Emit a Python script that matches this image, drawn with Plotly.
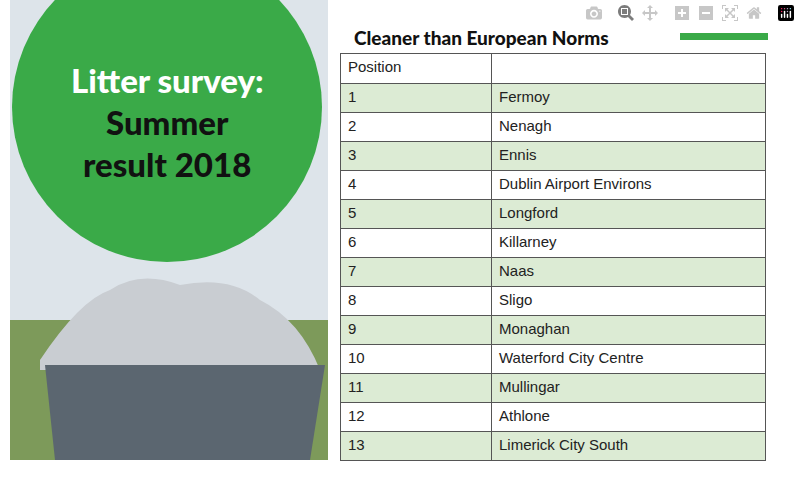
import plotly.graph_objects as go

positions = [str(i) for i in range(1, 14)]
towns = ["Fermoy", "Nenagh", "Ennis", "Dublin Airport Environs", "Longford", "Killarney",
         "Naas", "Sligo", "Monaghan", "Waterford City Centre", "Mullingar", "Athlone",
         "Limerick City South"]
header = ["Position", ""]
title = "Cleaner than European Norms"

W, H = 800, 483
green_light = "#dcebd4"
fills = [green_light if i % 2 == 0 else "white" for i in range(len(towns))]

fig = go.Figure()
fig.add_trace(go.Table(
    domain=dict(x=[340/W, 765/W], y=[1-461/H, 1-53/H]),
    columnwidth=[151, 274],
    header=dict(values=header, fill_color="white", line_color="#555", height=30,
                align="left", font=dict(family="Liberation Sans, Arial", size=15, color="#222")),
    cells=dict(values=[positions, towns], fill_color=[fills, fills], line_color="#555", height=29,
               align="left", font=dict(family="Liberation Sans, Arial", size=15, color="#222")),
))

shapes = [
    dict(type="rect", x0=10, x1=328, y0=0, y1=460, fillcolor="#dde4ea", line_width=0, layer="below"),
    dict(type="rect", x0=10, x1=328, y0=320, y1=460, fillcolor="#7d9a5a", line_width=0, layer="below"),
    dict(type="path", path="M 40 360 Q 80 300 110 290 Q 140 270 180 285 Q 230 275 260 300 Q 300 320 320 370 L 40 370 Z",
         fillcolor="#c9cdd2", line_width=0, layer="below"),
    dict(type="path", path="M 45 365 L 325 365 L 310 460 L 55 460 Z", fillcolor="#5b6670", line_width=0, layer="below"),
    dict(type="circle", x0=12, x1=322, y0=-48, y1=262, fillcolor="#3aaa48", line_width=0),
    dict(type="rect", x0=680, x1=768, y0=33, y1=40, fillcolor="#3aaa48", line_width=0),
]
fig.update_layout(shapes=shapes)

ann = [
    dict(x=167, y=80, text="Litter survey:", font=dict(color="white", size=33)),
    dict(x=167, y=122, text="Summer", font=dict(color="#111", size=33)),
    dict(x=167, y=164, text="result 2018", font=dict(color="#111", size=33)),
    dict(x=352, y=37, text=title, xanchor="left", font=dict(color="#111", size=19)),
]
for a in ann:
    a.update(xref="x", yref="y", showarrow=False)
    a.setdefault("xanchor", "center")
    a["font"]["family"] = "Lato, Liberation Sans"
    a["font"]["weight"] = 900
fig.update_layout(annotations=ann)

fig.update_layout(
    width=W, height=H, margin=dict(l=0, r=0, t=0, b=0),
    paper_bgcolor="white", plot_bgcolor="white",
    xaxis=dict(range=[0, W], visible=False, domain=[0, 1]),
    yaxis=dict(range=[H, 0], visible=False, domain=[0, 1]),
    showlegend=False,
)
fig.write_html("out.html")
with open("out.html", encoding="utf-8") as f:
    html = f.read()
html = html.replace("<body>", '<body style="margin:0">', 1)
with open("out.html", "w", encoding="utf-8") as f:
    f.write(html)
